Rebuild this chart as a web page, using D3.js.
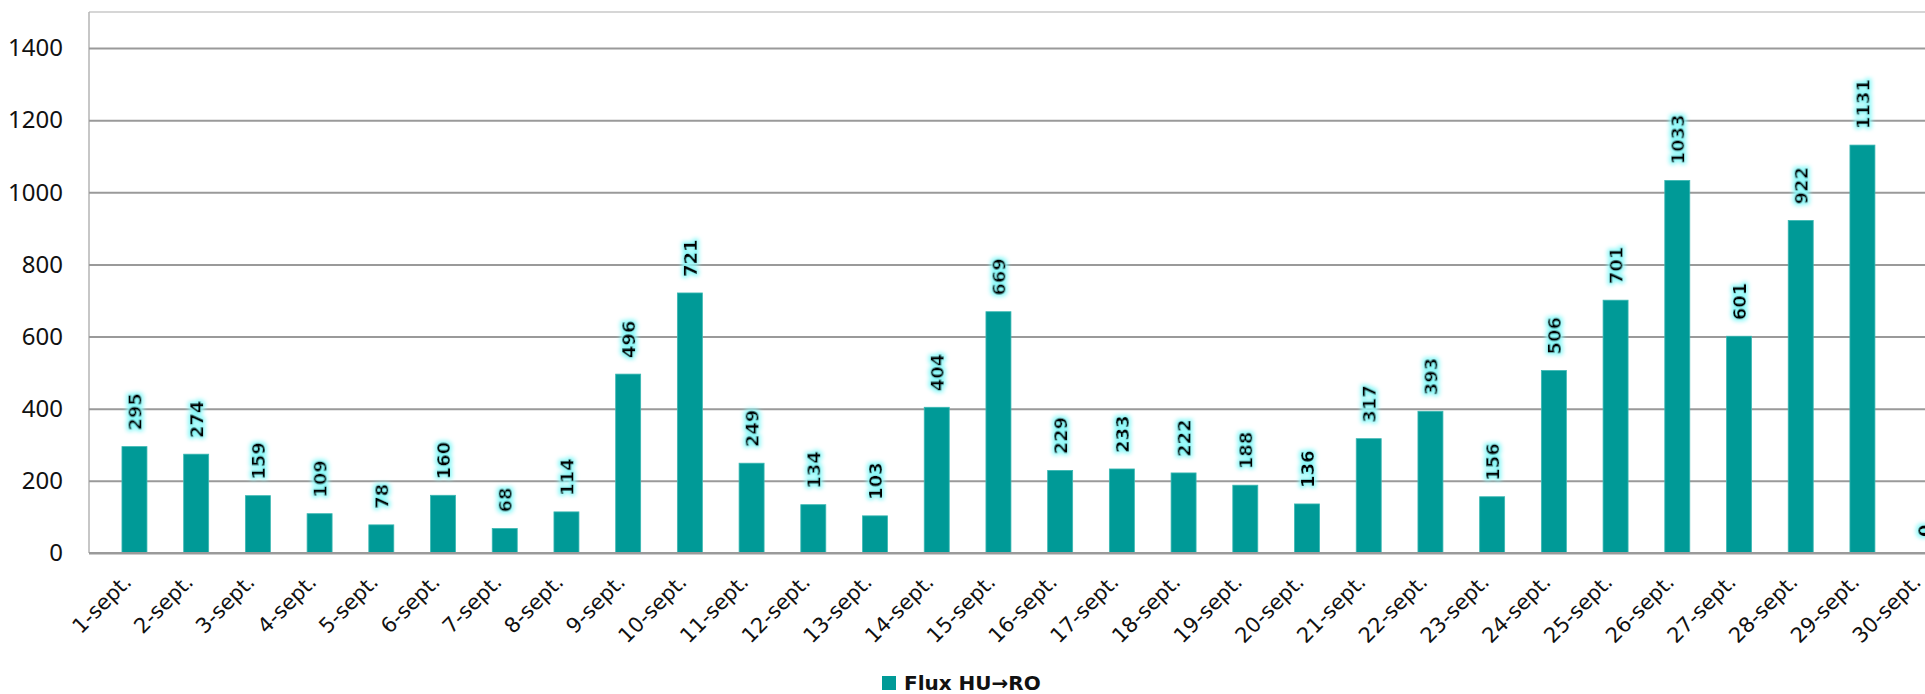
<!DOCTYPE html>
<html>
<head>
<meta charset="utf-8">
<script src="https://cdn.jsdelivr.net/npm/d3@7"></script>
<style>
  body { margin: 0; background: #fff; }
  svg { display: block; }
</style>
</head>
<body>
<div id="chart"></div>
<script>
// data
var days = ['1-sept.', '2-sept.', '3-sept.', '4-sept.', '5-sept.', '6-sept.', '7-sept.', '8-sept.', '9-sept.', '10-sept.',
  '11-sept.', '12-sept.', '13-sept.', '14-sept.', '15-sept.', '16-sept.', '17-sept.', '18-sept.', '19-sept.', '20-sept.',
  '21-sept.', '22-sept.', '23-sept.', '24-sept.', '25-sept.', '26-sept.', '27-sept.', '28-sept.', '29-sept.', '30-sept.'];
var flux = [295, 274, 159, 109, 78, 160, 68, 114, 496, 721,
  249, 134, 103, 404, 669, 229, 233, 222, 188, 136,
  317, 393, 156, 506, 701, 1033, 601, 922, 1131, 0];
var yTicks = [0, 200, 400, 600, 800, 1000, 1200, 1400];
var seriesName = 'Flux HU\u2192RO';

const width = 1925;
const height = 694;
const plot = { left: 89, top: 12, bottom: 553 };
const barColor = '#009a97';

const svg = d3.select('#chart').append('svg')
  .attr('width', width).attr('height', height);

// soft cyan halo behind the data labels
const glow = svg.append('defs').append('filter').attr('id', 'glow')
  .attr('x', '-40%').attr('y', '-40%').attr('width', '180%').attr('height', '180%');
glow.append('feMorphology').attr('in', 'SourceAlpha').attr('operator', 'dilate').attr('radius', 2).attr('result', 'thick');
glow.append('feGaussianBlur').attr('in', 'thick').attr('stdDeviation', 2.2).attr('result', 'blur');
glow.append('feFlood').attr('flood-color', '#8cf8f8');
glow.append('feComposite').attr('in2', 'blur').attr('operator', 'in').attr('result', 'halo');
const merge = glow.append('feMerge');
merge.append('feMergeNode').attr('in', 'halo');
merge.append('feMergeNode').attr('in', 'SourceGraphic');

const x = d3.scaleBand().domain(days).range([103.6, 1955]).paddingInner(0.595).paddingOuter(0.2975);
const y = d3.scaleLinear().domain([0, 1500]).range([plot.bottom, plot.top]);

// plot frame (top and left)
svg.append('line').attr('x1', plot.left).attr('x2', width).attr('y1', plot.top).attr('y2', plot.top)
  .attr('stroke', '#c8c8c8').attr('stroke-width', 1.5);
svg.append('line').attr('x1', plot.left).attr('x2', plot.left).attr('y1', plot.top).attr('y2', plot.bottom)
  .attr('stroke', '#b4b4b4').attr('stroke-width', 1.5);

// gridlines + y labels
const yAxis = svg.append('g').attr('transform', `translate(${plot.left},0)`)
  .call(d3.axisLeft(y).tickValues(yTicks).tickFormat(d3.format('d'))
    .tickSize(-(width - plot.left)).tickPadding(26));
yAxis.select('.domain').remove();
yAxis.selectAll('.tick line').attr('stroke', '#9a9a9a').attr('stroke-width', 2);
yAxis.selectAll('.tick text')
  .style('font-family', '"Noto Sans", sans-serif').style('font-size', '24px').attr('fill', '#111');

// bars
svg.selectAll('.bar').data(flux).enter().append('rect')
  .attr('class', 'bar')
  .attr('x', (d, i) => x(days[i]))
  .attr('y', d => y(d))
  .attr('width', x.bandwidth())
  .attr('height', d => y(0) - y(d))
  .attr('fill', barColor)
  .attr('stroke', '#3bb8b3').attr('stroke-width', 0.8);

// bottom axis line over bars
svg.append('line').attr('x1', plot.left).attr('x2', width).attr('y1', plot.bottom).attr('y2', plot.bottom)
  .attr('stroke', '#9a9a9a').attr('stroke-width', 2);

// data labels
svg.selectAll('.lbl').data(flux).enter().append('text')
  .attr('class', 'lbl')
  .attr('transform', (d, i) => `translate(${x(days[i]) + x.bandwidth() / 2 + 1},${y(d) - 16}) rotate(-90)`)
  .attr('dy', '0.36em')
  .attr('filter', 'url(#glow)')
  .style('font-family', '"DejaVu Sans", Verdana, sans-serif')
  .style('font-weight', 'bold')
  .style('font-size', '18px')
  .attr('fill', '#000')
  .text(d => d);

// x labels
const xAxis = svg.append('g').attr('transform', `translate(0,${plot.bottom})`)
  .call(d3.axisBottom(x).tickSize(0).tickPadding(0));
xAxis.select('.domain').remove();
xAxis.selectAll('.tick text')
  .attr('text-anchor', 'end')
  .attr('transform', 'translate(-7,25) rotate(-45)')
  .attr('dy', '0.35em')
  .attr('y', 0)
  .style('font-family', '"DejaVu Sans", Verdana, sans-serif')
  .style('font-size', '21px')
  .attr('fill', '#111');

// legend
const legend = svg.append('g').attr('transform', 'translate(882,676)');
legend.append('rect').attr('width', 14).attr('height', 14).attr('fill', barColor);
legend.append('text').attr('x', 22).attr('y', 7).attr('dy', '0.36em')
  .style('font-family', '"DejaVu Sans", Verdana, sans-serif')
  .style('font-weight', 'bold').style('font-size', '20px')
  .attr('fill', '#111')
  .text(seriesName);
</script>
</body>
</html>
